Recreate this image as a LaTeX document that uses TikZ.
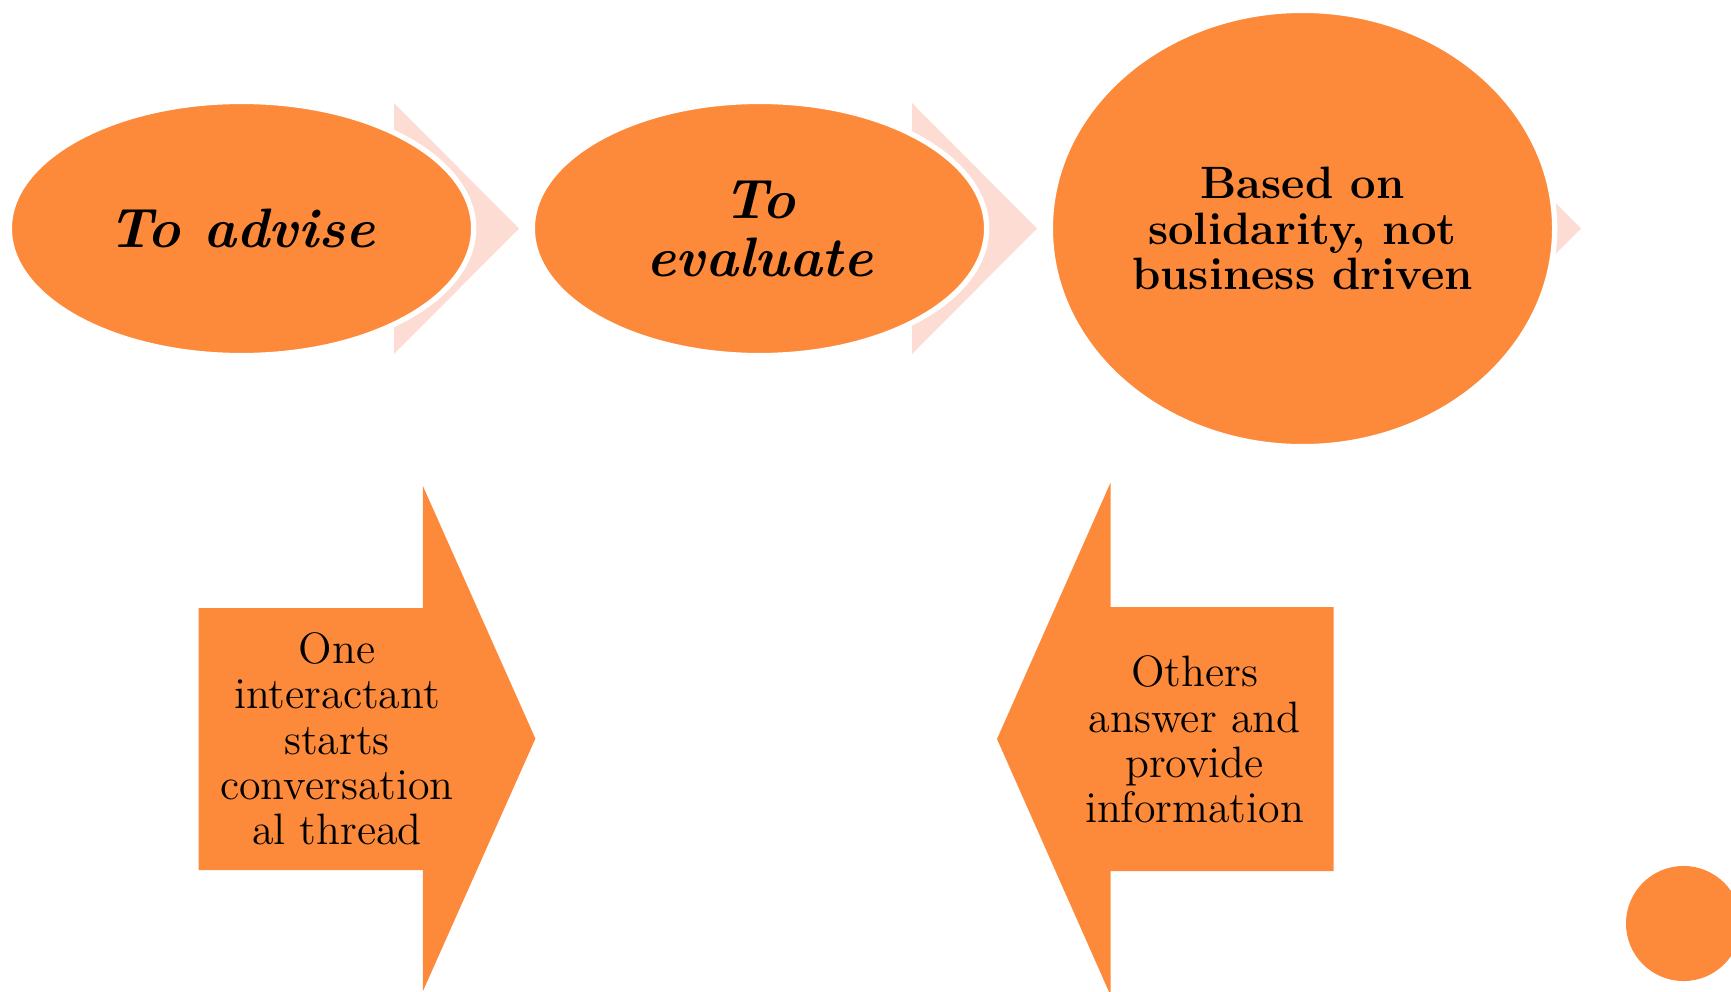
\documentclass[tikz,border=0pt]{standalone}
\usepackage{tikz}
\usetikzlibrary{shapes.geometric}

\definecolor{flow}{HTML}{FD8A3A}
\definecolor{chev}{HTML}{FDDDD3}

\tikzstyle{bubble} = [ellipse, fill=flow, draw=white, line width=1.5pt, inner sep=0pt, align=center]
\tikzstyle{chevron} = [fill=chev]
\tikzstyle{blockarrow} = [fill=flow]
\tikzstyle{arrowtext} = [align=center, inner sep=0pt]

\newcommand{\ovalfont}{\fontsize{15.8}{16.5}\selectfont\bfseries\itshape}
\newcommand{\solidfont}{\fontsize{12.9}{13}\selectfont\bfseries}
\newcommand{\arrowfont}{\fontsize{12.5}{12.9}\selectfont}

\begin{document}
\begin{tikzpicture}[x=0.01cm,y=-0.01cm]
\useasboundingbox (0,0) rectangle (1731,991);

% Chevrons
\fill[chevron] (394,103) -- (519,228.5) -- (394,354) -- cycle;
\fill[chevron] (912,103) -- (1037,228.5) -- (912,354) -- cycle;
\fill[chevron] (1456,103) -- (1581,228.5) -- (1456,354) -- cycle;

% Nodes
\node[bubble, font=\ovalfont, minimum width=4.64cm, minimum height=2.54cm] (advise) at (241.5,228.5) {To advise};
\node[bubble, font=\ovalfont, minimum width=4.54cm, minimum height=2.54cm] (evaluate) at (759.5,228.5) {To\\ evaluate};
\node[bubble, font=\solidfont, minimum width=5.04cm, minimum height=4.36cm] (solidarity) at (1302.5,228.5) {Based on\\ solidarity, not\\ business driven};

% Arrows
\fill[blockarrow] (198.7,608) -- (422.8,608) -- (422.8,485.8) -- (535.4,738.6)
  -- (422.8,991.4) -- (422.8,870) -- (198.7,870) -- cycle;
\fill[blockarrow] (1333.6,607) -- (1110.6,607) -- (1110.6,482.5) -- (997,739)
  -- (1110.6,995.5) -- (1110.6,871) -- (1333.6,871) -- cycle;

\node[arrowtext, font=\arrowfont] (starts) at (337,739) {One\\ interactant\\ starts\\ conversation\\ al thread};
\node[arrowtext, font=\arrowfont] (answers) at (1194.5,739.5) {Others\\ answer and\\ provide\\ information};

% Dot
\node[circle, fill=flow, inner sep=0pt, minimum size=1.15cm] (dot) at (1683.5,923.5) {};

\end{tikzpicture}
\end{document}
